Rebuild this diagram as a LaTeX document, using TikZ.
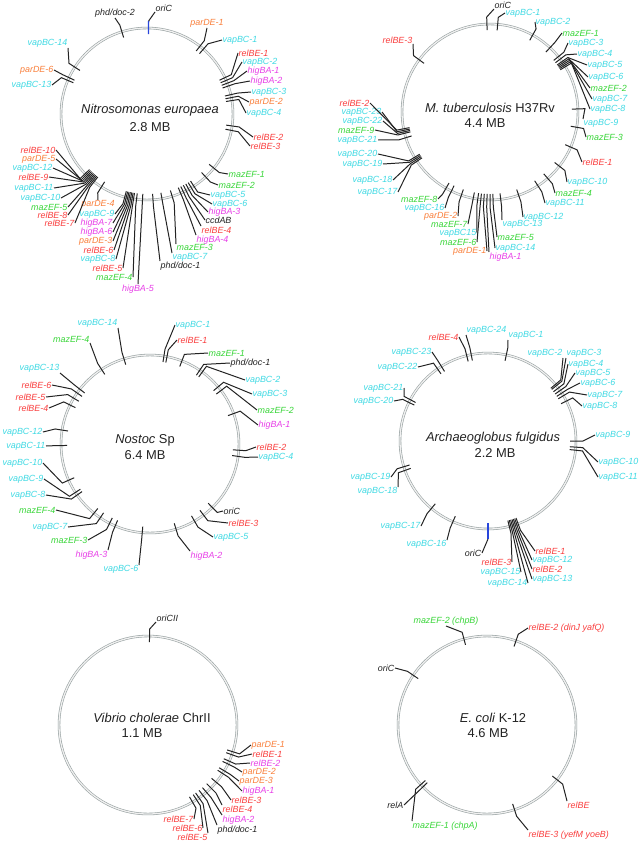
\documentclass[tikz,border=0pt]{standalone}
\usepackage{fontspec}
\setmainfont{Liberation Sans}
\usetikzlibrary{calc}
\definecolor{ink}{RGB}{35,35,35}
\definecolor{vapC}{RGB}{64,218,228}
\definecolor{relR}{RGB}{250,62,62}
\definecolor{parO}{RGB}{250,128,60}
\definecolor{higM}{RGB}{232,64,232}
\definecolor{mazG}{RGB}{56,214,56}
\definecolor{oriB}{RGB}{40,70,220}
\definecolor{ringgray}{RGB}{150,160,160}
\tikzset{
    ring/.style={draw=ringgray, double=gray!12, double distance=1.1pt, line width=0.5pt},
    tick/.style={draw=ink, line width=0.85pt},
    oritick/.style={draw=oriB, line width=1.1pt},
    lab/.style={font=\fontsize{7.6}{9}\selectfont\itshape, inner sep=0.4pt},
    title/.style={font=\fontsize{11}{13}\selectfont, text=ink, inner sep=0pt},
}
% one genome: #1 centre, #2 radius (px), #3 angle/x/y/anchor/colour/label
\newcommand{\tamap}[3]{%
    \foreach \a/\lx/\ly/\an/\col/\txt [count=\i] in {#3} {
        \coordinate (#1a\i) at ($(#1)+({(#2-6)*cos(\a)},{-(#2-6)*sin(\a)})$);
        \coordinate (#1b\i) at ($(#1)+({(#2+7)*cos(\a)},{-(#2+7)*sin(\a)})$);
        \node[lab, text=\col, anchor=\an] (#1n\i) at (\lx,\ly) {\txt};
        \draw[tick] (#1a\i) -- (#1b\i) -- (#1n\i.\an);
    }%
}

\begin{document}
\begin{tikzpicture}[x=0.03cm, y=-0.03cm]
    \fill[white] (0,0) rectangle (640,843);
    \useasboundingbox (0,0) rectangle (640,843);

    % Nitrosomonas europaea
    \coordinate (c1) at (147,114);
    \draw[ring] (c1) circle[radius=2.58cm];
    \node[title] (t1a) at (150,110) {\itshape Nitrosomonas europaea};
    \node[title] (t1b) at (150,127) {2.8 MB};
    \tamap{c1}{86}{107/115/18/south/ink/{phd/doc-2},
        52/207/28/south/parO/parDE-1, 49/222/40/west/vapC/vapBC-1,
        25/238/53/west/relR/relBE-1, 23/242/62/west/vapC/vapBC-2,
        21/247/71/west/higM/higBA-1, 19/250/81/west/higM/higBA-2,
        13/251/92/west/vapC/vapBC-3, 11/249/102/west/parO/parDE-2,
        9/246/113/west/vapC/vapBC-4, -8/253/137/west/relR/relBE-2,
        -11/250/146/west/relR/relBE-3, -39/228/174/west/mazG/mazEF-1,
        -47/218/185/west/mazG/mazEF-2, -57/210/195/west/vapC/vapBC-5,
        -59/212/204/west/vapC/vapBC-6, -61/208/212/west/higM/higBA-3,
        -63/205/220/west/ink/ccdAB, -65/201/226/north west/relR/relBE-4,
        -67/196/235/north west/higM/higBA-4, -73/176/244/north west/mazG/mazEF-3,
        -80/172/253/north west/vapC/vapBC-7, -86/160/261/north west/ink/{phd/doc-1},
        -93/138/284/north/higM/higBA-5, -97/133/277/east/mazG/mazEF-4,
        -99/123/268/east/relR/relBE-5, -100/116/259/east/vapC/vapBC-8,
        -101/114/250/east/relR/relBE-6, -102/113/241/east/parO/parDE-3,
        -103/113/232/east/higM/higBA-6, -104/113/223/east/higM/higBA-7,
        -105/115/214/east/vapC/vapBC-9, -122/98/200/north/parO/parDE-4,
        -128/75/223/east/relR/relBE-7, -129/68/215/east/relR/relBE-8,
        -130/68/207/east/mazG/mazEF-5, -131/61/198/east/vapC/vapBC-10,
        -132/54/188/east/vapC/vapBC-11, -133/49/177/east/relR/relBE-9,
        -134/53/168/east/vapC/vapBC-12, -135/56/159/east/parO/parDE-5,
        -136/56/150/east/relR/relBE-10, 147/68/48/south east/vapC/vapBC-14,
        155/54/70/east/parO/parDE-6, 157/52/85/east/vapC/vapBC-13}
    \coordinate (c1oa) at ($(c1)+({80*cos(89)},{-80*sin(89)})$);
    \coordinate (c1ob) at ($(c1)+({93*cos(89)},{-93*sin(89)})$);
    \node[lab, text=ink, anchor=south west] (c1ori) at (155,12) {oriC};
    \draw[oritick] (c1oa) -- (c1ob);
    \draw[tick] (c1ob) -- (c1ori.south west);

    % M. tuberculosis
    \coordinate (c2) at (490,112);
    \draw[ring] (c2) circle[radius=2.64cm];
    \node[title] (t2a) at (490,108) {\textit{M. tuberculosis} H37Rv};
    \node[title] (t2b) at (485,123) {4.4 MB};
    \tamap{c2}{88}{92/494/9/south west/ink/oriC, 85/505/13/west/vapC/vapBC-1,
        61/535/22/west/vapC/vapBC-2, 47/562/33/west/mazG/mazEF-1,
        39/568/43/west/vapC/vapBC-3, 37/577/54/west/vapC/vapBC-4,
        35/587/65/west/vapC/vapBC-5, 34/588/77/west/vapC/vapBC-6,
        33/590/88/west/mazG/mazEF-2, 32/592/99/west/vapC/vapBC-7,
        31/590/109/west/vapC/vapBC-8, 2/583/119/north west/vapC/vapBC-9,
        -10/586/137/west/mazG/mazEF-3, -23.5/582/162/west/relR/relBE-1,
        -38/567/182/west/vapC/vapBC-10, -49/555/193/west/mazG/mazEF-4,
        -57/545/203/west/vapC/vapBC-11, -71/523/217/west/vapC/vapBC-12,
        -83/502/220/north west/vapC/vapBC-13, -88/497/237/west/mazG/mazEF-5,
        -90/495/248/west/vapC/vapBC-14, -92/489/252/north west/higM/higBA-1,
        -94/487/251/east/parO/parDE-1, -96/477/242/east/mazG/mazEF-6,
        -98/477/233/east/vapC/vapBC15, -101/468/224/east/mazG/mazEF-7,
        -109/458/216/east/parO/parDE-2, -116/445/208/east/vapC/vapBC-16,
        -120/438/199/east/mazG/mazEF-8, -146/398/192/east/vapC/vapBC-17,
        -147/393/180/east/vapC/vapBC-18, -148/383/164/east/vapC/vapBC-19,
        -149/378/154/east/vapC/vapBC-20, -163/378/140/east/vapC/vapBC-21,
        -166/375/130/east/mazG/mazEF-9, -167/383/121/east/vapC/vapBC-22,
        -168/382/112/east/vapC/vapBC-23, -169/370/103/east/relR/relBE-2,
        143.6/413/44/south east/relR/relBE-3}

    % Nostoc
    \coordinate (c3) at (150,444);
    \draw[ring] (c3) circle[radius=2.67cm];
    \node[title] (t3a) at (145,440) {\textit{Nostoc} Sp};
    \node[title] (t3b) at (145,455) {6.4 MB};
    \tamap{c3}{89}{107/118/328/south east/vapC/vapBC-14,
        123/90/343/south east/mazG/mazEF-4, 142/60/373/south east/vapC/vapBC-13,
        145/52/385/east/relR/relBE-6, 149/46/397/east/relR/relBE-5,
        154/49/408/east/relR/relBE-4, 171/43/432/east/vapC/vapBC-12,
        181/46/446/east/vapC/vapBC-11, 204/43/463/east/vapC/vapBC-10,
        213/44/479/east/vapC/vapBC-9, 215/46/495/east/vapC/vapBC-8,
        231/56/510/east/mazG/mazEF-4, 236/68/527/east/vapC/vapBC-7,
        243/88/540/east/mazG/mazEF-3, 247/108/550/north east/higM/higBA-3,
        265/139/565/north east/vapC/vapBC-6, -73/190/551/north west/higM/higBA-2,
        -60/213/537/west/vapC/vapBC-5, -53/228/523/west/relR/relBE-3,
        -45.5/223/511/west/ink/oriC, -8/258/457/west/vapC/vapBC-4,
        -4/256/447/west/relR/relBE-2, 20/258/425/west/higM/higBA-1,
        37/257/410/west/mazG/mazEF-2, 40/252/394/west/vapC/vapBC-3,
        54/245/380/west/vapC/vapBC-2, 56/230/363/west/ink/{phd/doc-1},
        69/208/353/west/mazG/mazEF-1, 79/177/340/west/relR/relBE-1,
        81/175/325/west/vapC/vapBC-1}

    % Archaeoglobus fulgidus
    \coordinate (c4) at (488,441);
    \draw[ring] (c4) circle[radius=2.64cm];
    \node[title] (t4a) at (493,438) {\itshape Archaeoglobus fulgidus};
    \node[title] (t4b) at (495,453) {2.2 MB};
    \tamap{c4}{88}{104/459/337/east/relR/relBE-4, 101/466/335/south west/vapC/vapBC-24,
        78/508/340/south west/vapC/vapBC-1, 125/418/367/east/vapC/vapBC-22,
        122/432/352/east/vapC/vapBC-23, 152/404/388/east/vapC/vapBC-21,
        154/394/401/east/vapC/vapBC-20, 40/563/358/south east/vapC/vapBC-2,
        39/566/358/south west/vapC/vapBC-3, 37/568/364/west/vapC/vapBC-4,
        35/575/373/west/vapC/vapBC-5, 33/580/383/west/vapC/vapBC-6,
        31/587/395/west/vapC/vapBC-7, 27/582/406/west/vapC/vapBC-8,
        0/595/435/west/vapC/vapBC-9, -4/598/462/west/vapC/vapBC-10,
        -6/598/477/west/vapC/vapBC-11, 197/391/477/east/vapC/vapBC-19,
        199.5/398/487/north east/vapC/vapBC-18, 230/421/526/east/vapC/vapBC-17,
        246.5/447/540/north east/vapC/vapBC-16, -76/512/562/east/relR/relBE-3,
        -75/521/572/east/vapC/vapBC-15, -74/528/583/east/vapC/vapBC-14,
        -73/532/579/west/vapC/vapBC-13, -72/532/569/west/relR/relBE-2,
        -71/532/560/west/vapC/vapBC-12, -70/535/551/west/relR/relBE-1}
    \coordinate (c4oa) at ($(c4)+({82*cos(270)},{-82*sin(270)})$);
    \coordinate (c4ob) at ($(c4)+({98*cos(270)},{-98*sin(270)})$);
    \node[lab, text=ink, anchor=east] (c4ori) at (482,553) {oriC};
    \draw[oritick] (c4oa) -- (c4ob);
    \draw[tick] (c4ob) -- (c4ori.east);

    % Vibrio cholerae ChrII
    \coordinate (c5) at (148,725);
    \draw[ring] (c5) circle[radius=2.67cm];
    \node[title] (t5a) at (152,718) {\textit{Vibrio cholerae} ChrII};
    \node[title] (t5b) at (142,733) {1.1 MB};
    \tamap{c5}{89}{89/156/622/south west/ink/oriCII,
        -17.5/251/745/west/parO/parDE-1, -19.5/252/754/west/relR/relBE-1,
        -24/250/763/west/higM/relBE-2, -26/242/772/west/parO/parDE-2,
        -31/239/781/west/parO/parDE-3, -33/242/791/west/higM/higBA-1,
        -40/231/800/west/relR/relBE-3, -45/222/805/north west/relR/relBE-4,
        -49/222/815/north west/higM/higBA-2, -52/217/825/north west/ink/{phd/doc-1},
        -55/208/833/north east/relR/relBE-5, -57/203/828/east/relR/relBE-6,
        -60/194/819/east/relR/relBE-7}

    % E. coli K-12
    \coordinate (c6) at (487,725);
    \draw[ring] (c6) circle[radius=2.67cm];
    \node[title] (t6a) at (493,718) {\textit{E. coli} K-12};
    \node[title] (t6b) at (488,733) {4.6 MB};
    \tamap{c6}{89}{105/446/626/south/mazG/{mazEF-2 (chpB)},
        71/528/628/west/relR/{relBE-2 (dinJ yafQ)},
        146/395/668/east/ink/oriC, 224/404/805/east/ink/relA,
        222/412/821/north west/mazG/{mazEF-1 (chpA)},
        -38/567/801/north west/relR/relBE,
        -72/528/830/north west/relR/{relBE-3 (yefM yoeB)}}
\end{tikzpicture}
\end{document}
